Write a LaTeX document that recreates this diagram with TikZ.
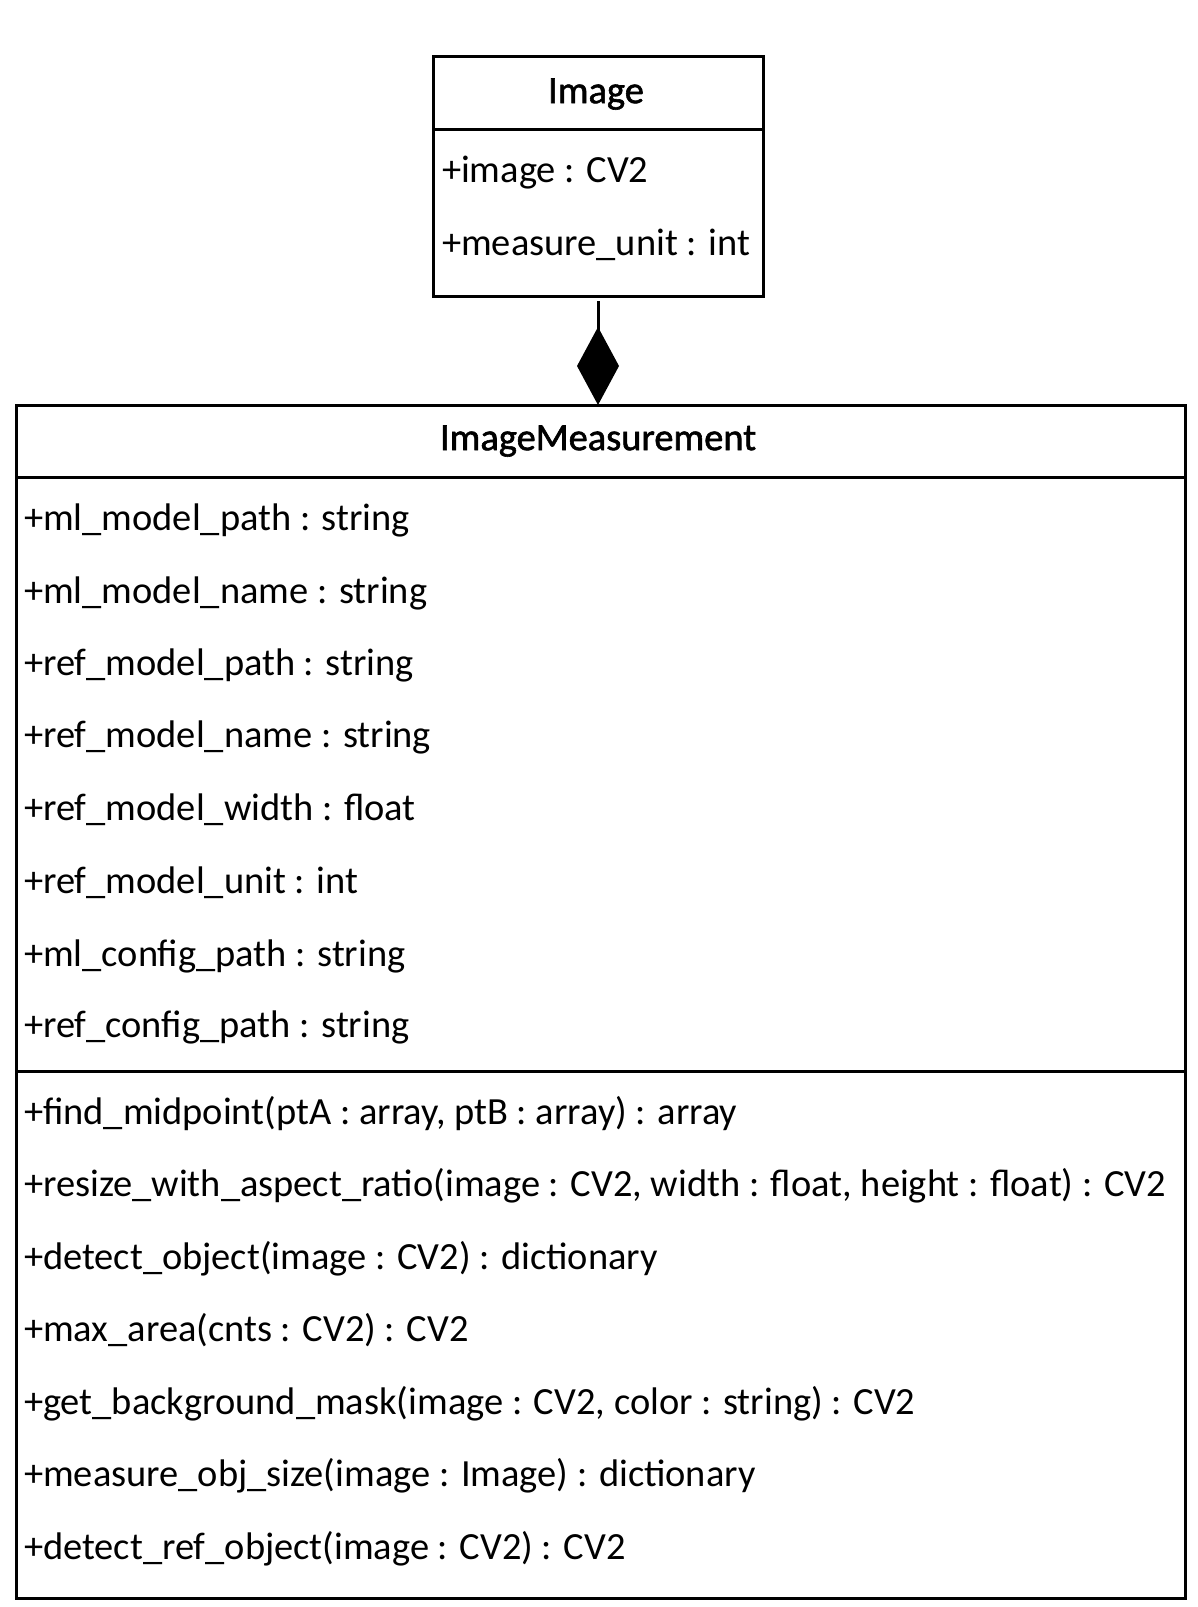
\documentclass[tikz,border=0pt]{standalone}
\usepackage{fontspec}
\newfontfamily\thfont{Carlito}
\newfontfamily\ttlfont[FakeBold=1.5]{Carlito}
\usetikzlibrary{arrows.meta,calc}
\newlength\reflen
\settowidth\reflen{\thfont\fontsize{10pt}{12pt}\selectfont +resize\_with\_aspect\_ratio(image : CV2, width : float, height : float) : CV2}
\pgfmathsetmacro\fsz{10*1142/\reflen}
\tikzset{
  umlbox/.style={draw, line width=3pt, inner sep=0pt, outer sep=0pt},
  sepline/.style={line width=3pt},
  txt/.style={anchor=mid west, inner sep=0pt, outer sep=0pt, yshift=-11pt, font=\thfont\fontsize{\fsz pt}{\fsz pt}\selectfont},
  ttl/.style={anchor=mid, inner sep=0pt, outer sep=0pt, yshift=-10pt, font=\ttlfont\fontsize{\fsz pt}{\fsz pt}\selectfont},
  comp/.style={line width=3pt, -{Diamond[length=78pt,width=42pt,fill=black]}, shorten <=5pt}
}
\begin{document}
\begin{tikzpicture}[x=1pt,y=-1pt]
\useasboundingbox (0,0) rectangle (1198,1607);
% Image class
\node[umlbox, minimum width=330pt, minimum height=240pt] (imgbox) at (598,176) {};
\draw[sepline] (imgbox.west |- 0,129) -- (imgbox.east |- 0,129);
\node[ttl] (imgtitle) at (596,91) {Image};
\node[txt] (imga1) at (442,169) {+image : CV2};
\node[txt] (imga2) at (442,242) {+measure\_unit : int};
% ImageMeasurement class
\node[umlbox, minimum width=1169pt, minimum height=1193pt] (imbox) at (600.5,1001.5) {};
\draw[sepline] (imbox.west |- 0,477) -- (imbox.east |- 0,477);
\draw[sepline] (imbox.west |- 0,1071) -- (imbox.east |- 0,1071);
\node[ttl] (imtitle) at (598,438) {ImageMeasurement};
\node[txt] (a1) at (24,517.5) {+ml\_model\_path : string};
\node[txt] (a2) at (24,590.3) {+ml\_model\_name : string};
\node[txt] (a3) at (24,662) {+ref\_model\_path : string};
\node[txt] (a4) at (24,734.8) {+ref\_model\_name : string};
\node[txt] (a5) at (24,807.5) {+ref\_model\_width : float};
\node[txt] (a6) at (24,880.3) {+ref\_model\_unit : int};
\node[txt] (a7) at (24,953) {+ml\_config\_path : string};
\node[txt] (a8) at (24,1024.8) {+ref\_config\_path : string};
\node[txt] (m1) at (24,1110.9) {+find\_midpoint(ptA : array, ptB : array) : array};
\node[txt] (m2) at (24,1183.7) {+resize\_with\_aspect\_ratio(image : CV2, width : float, height : float) : CV2};
\node[txt] (m3) at (24,1256.4) {+detect\_object(image : CV2) : dictionary};
\node[txt] (m4) at (24,1328.2) {+max\_area(cnts : CV2) : CV2};
\node[txt] (m5) at (24,1400.9) {+get\_background\_mask(image : CV2, color : string) : CV2};
\node[txt] (m6) at (24,1473.7) {+measure\_obj\_size(image : Image) : dictionary};
\node[txt] (m7) at (24,1546.4) {+detect\_ref\_object(image : CV2) : CV2};
% composition
\draw[comp] (imgbox.south) -- (imgbox.south |- imbox.north);
\end{tikzpicture}
\end{document}
